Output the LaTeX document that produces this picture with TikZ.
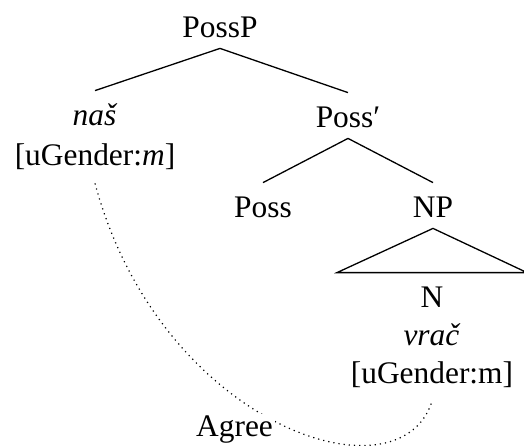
\documentclass[tikz,border=0pt]{standalone}
\usepackage{fontspec}
\setmainfont{Liberation Serif}
\usepackage{tikz}
\begin{document}
\begin{tikzpicture}[
  x=0.5pt,
  y=-0.5pt,
  cat/.style={inner sep=0pt, anchor=base, text height=17pt, text depth=5.5pt},
  feat/.style={inner sep=0pt, anchor=base, text height=17pt, text depth=9pt},
  branch/.style={line width=0.65pt},
  agreearc/.style={dotted, line width=0.6pt},
  every node/.style={font=\fontsize{15.7pt}{19.5pt}\selectfont}
]
\useasboundingbox (0,0) rectangle (524,445);
\node[cat] (possp) at (220,37) {PossP};
\node[cat] (nas) at (95,125) {\textit{naš}};
\node[feat] (nasf) at (95,165) {[uGender:\textit{m}]};
\node[cat] (possbar) at (348,127) {Poss′};
\node[cat] (poss) at (263,217) {Poss};
\node[cat] (np) at (433,217) {NP};
\node[cat] (n) at (432,307) {N};
\node[cat] (vrac) at (432,345) {\textit{vrač}};
\node[feat] (vracf) at (432,383) {[uGender:m]};
\draw[branch] (possp.south) -- (nas.north);
\draw[branch] (possp.south) -- (possbar.north);
\draw[branch] (possbar.south) -- (poss.north);
\draw[branch] (possbar.south) -- (np.north);
\draw[branch] (np.south) -- ([xshift=-47.5pt]n.north) -- ([xshift=47.5pt]n.north) -- cycle;
\draw[agreearc] (nasf.south) .. controls +(65,242) and +(-33,103) .. (vracf.south)
  node[pos=0.5, anchor=base east, yshift=-7.5pt, fill=white, inner sep=1pt] (agree) {Agree};
\end{tikzpicture}
\end{document}
